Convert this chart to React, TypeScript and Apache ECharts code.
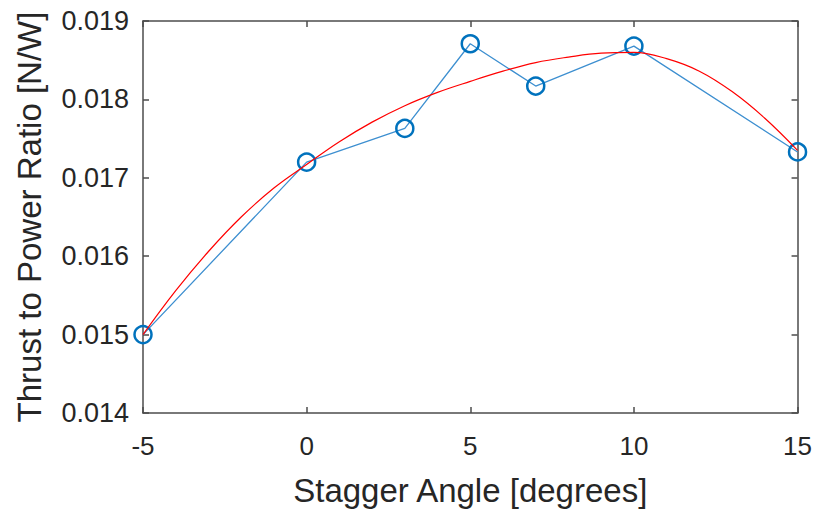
import React, { useEffect, useRef } from "react";
import * as echarts from "echarts";

// Measured data points
const angles = [-5, 0, 3, 5, 7, 10, 15];
const ratios = [0.015, 0.0172, 0.01763, 0.01871, 0.01817, 0.01868, 0.01733];

// Fitted curve
const fitAngles = [-5, -4, -3, -2, -1, 0, 1, 2, 3, 4, 5, 6, 7, 8, 9, 10, 11, 12, 13, 14, 15];
const fitRatios = [
  0.015, 0.01556, 0.01606, 0.0165, 0.01687, 0.01717, 0.01746, 0.01771, 0.01792, 0.01809,
  0.01823, 0.01836, 0.01847, 0.01854, 0.01859, 0.0186, 0.01852, 0.01836, 0.0181, 0.01776, 0.01735,
];

const xTicks = [-5, 0, 5, 10, 15];
const yTicks = [0.014, 0.015, 0.016, 0.017, 0.018, 0.019];

const FONT = "'Liberation Sans', Arial, sans-serif";
const TXT = "#262626";
const AX = "#4d4d4d";

export default function App() {
  const ref = useRef<HTMLDivElement>(null);
  useEffect(() => {
    document.body.style.margin = "0";
    if (!ref.current) return;
    const chart = echarts.init(ref.current, undefined, { renderer: "svg" });
    const axisLine = { show: true, onZero: false, lineStyle: { color: AX, width: 1.5 } };
    const tick = { show: true, inside: true, length: 6, lineStyle: { color: AX, width: 1.5 } };
    chart.setOption({
      animation: false,
      backgroundColor: "#ffffff",
      grid: { left: 143, right: 17, top: 21, bottom: 100, containLabel: false },
      xAxis: [
        {
          type: "value",
          min: xTicks[0],
          max: xTicks[xTicks.length - 1],
          interval: 5,
          name: "Stagger Angle [degrees]",
          nameLocation: "middle",
          nameGap: 61,
          nameTextStyle: { fontFamily: FONT, fontSize: 33, color: TXT },
          axisLine,
          axisTick: tick,
          axisLabel: { fontFamily: FONT, fontSize: 26, color: TXT, margin: 20 },
          splitLine: { show: false },
        },
        {
          type: "value",
          position: "top",
          min: xTicks[0],
          max: xTicks[xTicks.length - 1],
          interval: 5,
          axisLine,
          axisTick: tick,
          axisLabel: { show: false },
          splitLine: { show: false },
        },
      ],
      yAxis: [
        {
          type: "value",
          min: yTicks[0],
          max: yTicks[yTicks.length - 1],
          interval: 0.001,
          name: "Thrust to Power Ratio [N/W]",
          nameLocation: "middle",
          nameGap: 97,
          nameTextStyle: { fontFamily: FONT, fontSize: 33, color: TXT },
          axisLine,
          axisTick: tick,
          axisLabel: {
            fontFamily: FONT,
            fontSize: 27,
            color: TXT,
            margin: 14,
            formatter: (v: number) => v.toFixed(3),
          },
          splitLine: { show: false },
        },
        {
          type: "value",
          position: "right",
          min: yTicks[0],
          max: yTicks[yTicks.length - 1],
          interval: 0.001,
          axisLine,
          axisTick: tick,
          axisLabel: { show: false },
          splitLine: { show: false },
        },
      ],
      series: [
        {
          type: "line",
          data: angles.map((a, i) => [a, ratios[i]]),
          symbol: "circle",
          symbolSize: 17,
          showAllSymbol: true,
          lineStyle: { color: "#3d8fd0", width: 1.3 },
          itemStyle: { color: "rgba(255,255,255,0)", borderColor: "#0072BD", borderWidth: 2.5 },
          z: 2,
        },
        {
          type: "line",
          data: fitAngles.map((a, i) => [a, fitRatios[i]]),
          smooth: 0.4,
          symbol: "none",
          lineStyle: { color: "#ff0000", width: 1.2 },
          z: 3,
        },
      ],
    });
    return () => chart.dispose();
  }, []);
  return <div ref={ref} style={{ width: 815, height: 513 }} />;
}
